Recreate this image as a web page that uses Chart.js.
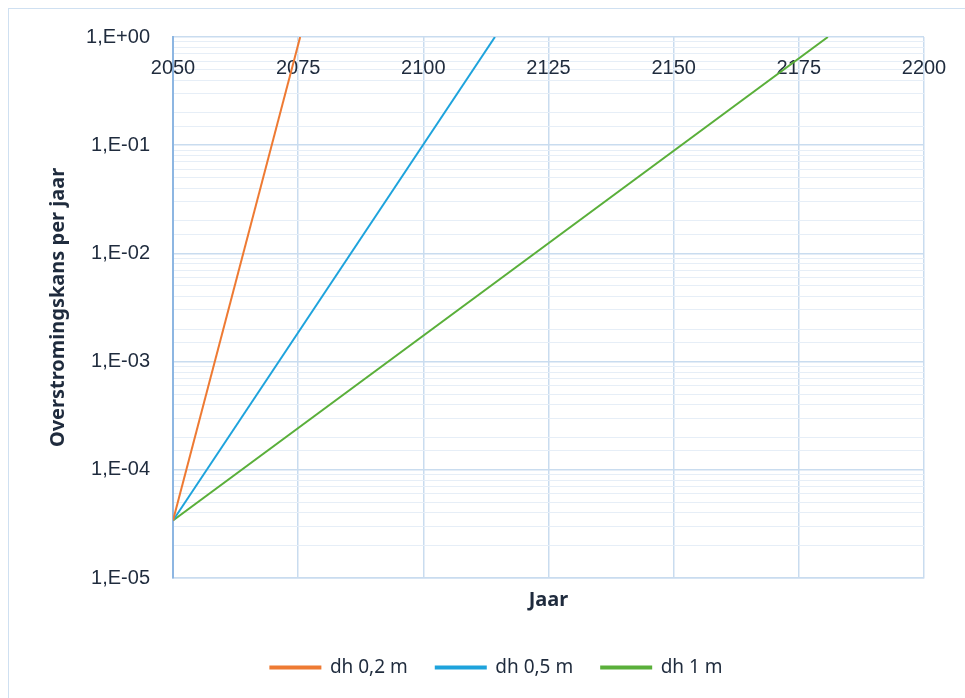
<!DOCTYPE html>
<html>
<head>
<meta charset="utf-8">
<script src="https://cdn.jsdelivr.net/npm/chart.js@4.4.0/dist/chart.umd.min.js"></script>
<style>
    html, body { margin: 0; padding: 0; background: #fff; }
    #wrap { position: relative; width: 965px; height: 698px; }
    #frame { position: absolute; left: 8px; top: 8px; width: 960px; height: 700px; border: 1.5px solid #cfe0f1; box-sizing: border-box; }
    canvas { position: absolute; left: 0; top: 0; }
</style>
</head>
<body>
<div id="wrap">
    <div id="frame"></div>
    <canvas id="chart" width="965" height="698"></canvas>
</div>
<script>
// Series (year, flood probability per year)
const years02 = [2050, 2075.4];
const values02 = [3.4e-5, 1];
const years05 = [2050, 2114.3];
const values05 = [3.4e-5, 1];
const years1 = [2050, 2180.8];
const values1 = [3.4e-5, 1];

const seriesLabels = ['dh 0,2 m', 'dh 0,5 m', 'dh 1 m'];
const seriesColors = ['#ee7a33', '#1ea3dc', '#5aaf3a'];

const yearMin = 2050;
const yearMax = 2200;
const yearStep = 25;
const probMin = 1e-5;
const probMax = 1;

const textColor = '#1f2b3d';
const gridMajor = '#c9dcef';
const gridMinor = '#e6eef7';

function toPoints(xs, ys) {
    return xs.map((x, i) => ({ x: x, y: ys[i] }));
}

function isDecade(v) {
    const l = Math.log10(v);
    return Math.abs(l - Math.round(l)) < 1e-9;
}

function expLabel(v) {
    const e = Math.round(Math.log10(v));
    const sign = e < 0 ? '-' : '+';
    return '1,E' + sign + String(Math.abs(e)).padStart(2, '0');
}

// Excel puts the year labels just under the top edge of the plot (axis crosses at 1)
const topYearLabels = {
    id: 'topYearLabels',
    beforeDatasetsDraw(chart) {
        const scale = chart.scales.x;
        const c = chart.ctx;
        c.save();
        c.font = '20px "Liberation Sans"';
        c.fillStyle = textColor;
        c.textAlign = 'center';
        c.textBaseline = 'middle';
        scale.ticks.forEach(t => {
            c.fillText(String(t.value), scale.getPixelForValue(t.value), chart.chartArea.top + 31);
        });
        c.restore();
    }
};

const ctx = document.getElementById('chart').getContext('2d');

new Chart(ctx, {
    type: 'line',
    data: {
        datasets: [
            { label: seriesLabels[0], data: toPoints(years02, values02) },
            { label: seriesLabels[1], data: toPoints(years05, values05) },
            { label: seriesLabels[2], data: toPoints(years1, values1) }
        ].map((d, i) => Object.assign(d, {
            borderColor: seriesColors[i],
            backgroundColor: seriesColors[i],
            borderWidth: 2,
            pointRadius: 0,
            tension: 0
        }))
    },
    options: {
        responsive: false,
        animation: false,
        layout: { padding: { left: 69, right: 41, top: 37, bottom: 11 } },
        scales: {
            x: {
                type: 'linear',
                position: 'bottom',
                min: yearMin,
                max: yearMax,
                ticks: { stepSize: yearStep, display: false },
                grid: { color: gridMajor, lineWidth: 1.5, drawTicks: false },
                border: { color: gridMajor, width: 1.5 },
                title: {
                    display: true,
                    text: 'Jaar',
                    color: textColor,
                    font: { family: 'Noto Sans', size: 20, weight: 'bold' },
                    padding: { top: 0, bottom: 18 }
                },
                afterFit: (axis) => { axis.height = 52; }
            },
            y: {
                type: 'logarithmic',
                min: probMin,
                max: probMax,
                ticks: {
                    padding: 23,
                    color: textColor,
                    font: { family: 'Liberation Sans', size: 20 },
                    autoSkip: false,
                    callback: (v) => isDecade(v) ? expLabel(v) : ''
                },
                grid: {
                    drawTicks: false,
                    color: (c) => (c.tick && isDecade(c.tick.value)) ? gridMajor : gridMinor,
                    lineWidth: (c) => (c.tick && isDecade(c.tick.value)) ? 1.5 : 1
                },
                border: { color: '#8db6e2', width: 2 },
                title: {
                    display: true,
                    text: 'Overstromingskans per jaar',
                    color: textColor,
                    font: { family: 'Noto Sans', size: 20, weight: 'bold' },
                    padding: { top: -23, bottom: 0 }
                },
                afterFit: (axis) => { axis.width = 104; }
            }
        },
        plugins: {
            legend: {
                position: 'bottom',
                labels: {
                    boxWidth: 50,
                    boxHeight: 2,
                    padding: 28,
                    color: textColor,
                    font: { family: 'Noto Sans', size: 19 }
                }
            },
            tooltip: { enabled: false }
        }
    },
    plugins: [topYearLabels]
});
</script>
</body>
</html>
